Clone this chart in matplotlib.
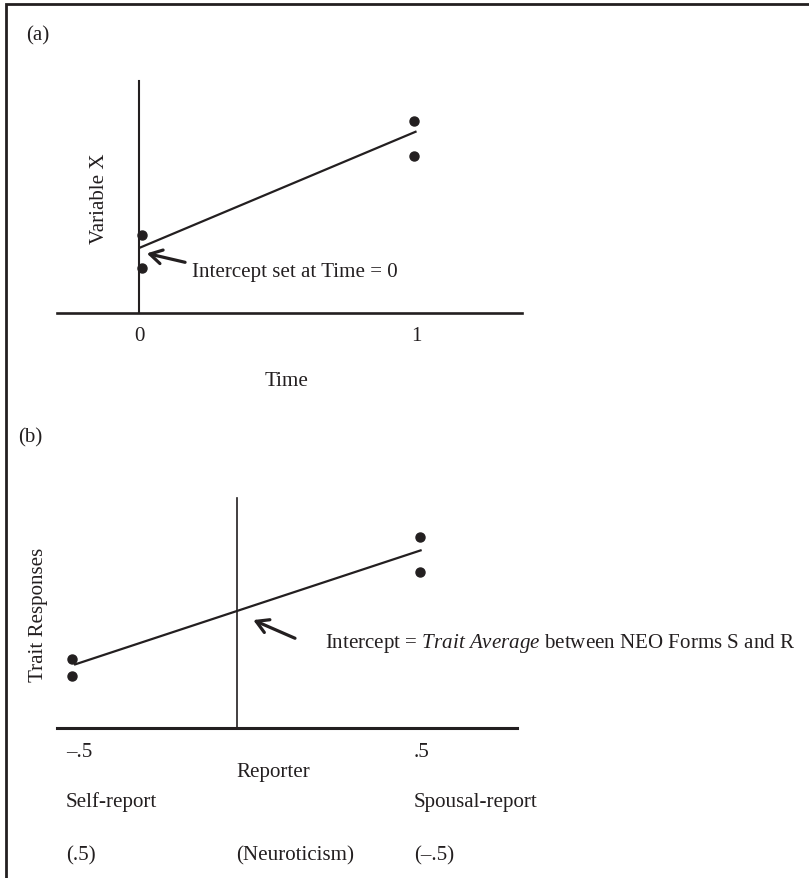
import matplotlib
matplotlib.use("Agg")
import matplotlib.pyplot as plt
from matplotlib.patches import Rectangle

# panel (a): intercept at first occasion
TIME = [0, 1]
TIME_LABELS = ["0", "1"]
A_DOT_X = [0.01, 0.01, 0.99, 0.99]
A_DOT_Y = [3.38, 1.93, 8.26, 6.75]
A_LINE_X = [0.0, 1.0]
A_LINE_Y = [2.80, 7.83]

# panel (b): reporter contrast coded -.5 / .5
REPORTER = [-0.5, 0.5]
REPORTER_LABELS = ["\u2013.5", ".5"]
REPORTER_NAMES = ["Self-report", "Spousal-report"]
NEURO_LABELS = ["(.5)", "(\u2013.5)"]
B_DOT_X = [-0.5, -0.5, 0.5, 0.5]
B_DOT_Y = [3.01, 2.26, 8.29, 6.77]
B_LINE_X = [-0.493, 0.506]
B_LINE_Y = [2.76, 7.74]

INK = "#231f20"
W, H = 809, 879
FS = 15.1

plt.rcParams["font.family"] = "Liberation Serif"
plt.rcParams["mathtext.fontset"] = "custom"
plt.rcParams["mathtext.rm"] = "Liberation Serif"
plt.rcParams["mathtext.it"] = "Liberation Serif:italic"
plt.rcParams["font.size"] = FS
plt.rcParams["text.color"] = INK

fig = plt.figure(figsize=(W / 100, H / 100), dpi=100)


def px_axes(x0, x1, y0, y1):
    # axes box given in pixels from the top-left corner
    return fig.add_axes([x0 / W, 1 - y1 / H, (x1 - x0) / W, (y1 - y0) / H])


def px_text(x, y, s, **kw):
    fig.text(x / W, 1 - y / H, s, **kw)


def bare(ax, ycross, lw_x, lw_y):
    ax.set_ylim(0, 10)
    ax.spines["top"].set_visible(False)
    ax.spines["right"].set_visible(False)
    ax.spines["left"].set_position(("data", ycross))
    ax.spines["left"].set_linewidth(lw_y)
    ax.spines["bottom"].set_linewidth(lw_x)
    for s in ("left", "bottom"):
        ax.spines[s].set_color(INK)
    ax.set_yticks([])
    ax.patch.set_visible(False)


arrow = dict(arrowstyle="->,head_length=0.43,head_width=0.25", lw=2.3,
             color=INK, shrinkA=0, shrinkB=0, mutation_scale=20)

# ---- (a)
ax = px_axes(57, 522, 82, 314)
ax.set_xlim(-0.2955, 1.380)
bare(ax, 0, 1.9, 1.5)
ax.set_xticks(TIME, TIME_LABELS)
ax.tick_params(axis="x", length=0, pad=9.6, colors=INK, labelsize=FS)
ax.plot(A_LINE_X, A_LINE_Y, color=INK, lw=1.6, solid_capstyle="butt")
ax.plot(A_DOT_X, A_DOT_Y, "o", color=INK, ms=6.5)
ax.annotate("", xy=(0.028, 2.57), xytext=(0.166, 2.185), arrowprops=arrow)
ax.text(0.19, 1.79, "Intercept set at Time = 0", ha="left", va="center")

px_text(26, 36, "(a)", ha="left", va="center")
px_text(286.7, 382, "Time", ha="center", va="center")
px_text(99.5, 198.3, "Variable X", rotation=90, ha="center", va="center")

# ---- (b)
bx = px_axes(57, 517, 499, 729.3)
bx.set_xlim(-0.542, 0.780)
bare(bx, -0.024, 2.2, 1.2)
bx.set_xticks([])
bx.plot(B_LINE_X, B_LINE_Y, color=INK, lw=1.6, solid_capstyle="butt")
bx.plot(B_DOT_X, B_DOT_Y, "o", color=INK, ms=6.5)
bx.annotate("", xy=(0.022, 4.70), xytext=(0.142, 3.91), arrowprops=arrow)
bx.text(0.228, 3.72,
        r"Intercept = $\mathit{Trait\ Average}$ between NEO Forms S and R",
        ha="left", va="center")

for x, tick, name, neuro in zip(REPORTER, REPORTER_LABELS, REPORTER_NAMES,
                                NEURO_LABELS):
    for txt, dy in ((tick, -23.5), (name, -73.2), (neuro, -126.2)):
        bx.annotate(txt, xy=(x, 0), xytext=(-5.5, dy),
                    textcoords="offset pixels", ha="left", va="center")
for txt, dy in (("Reporter", -43.2), ("(Neuroticism)", -126.2)):
    bx.annotate(txt, xy=(-0.024, 0), xytext=(-1, dy),
                textcoords="offset pixels", ha="left", va="center")

px_text(18.3, 437.5, "(b)", ha="left", va="center")
px_text(39, 615, "Trait Responses", rotation=90, ha="center", va="center")

# frame of the original figure box (cropped at right and bottom)
fig.add_artist(Rectangle((6 / W, -0.1), 1.2, 1.1 - 4.5 / H,
                         transform=fig.transFigure, fill=False,
                         lw=2.0, edgecolor=INK))

fig.savefig("out.png", dpi=100)
